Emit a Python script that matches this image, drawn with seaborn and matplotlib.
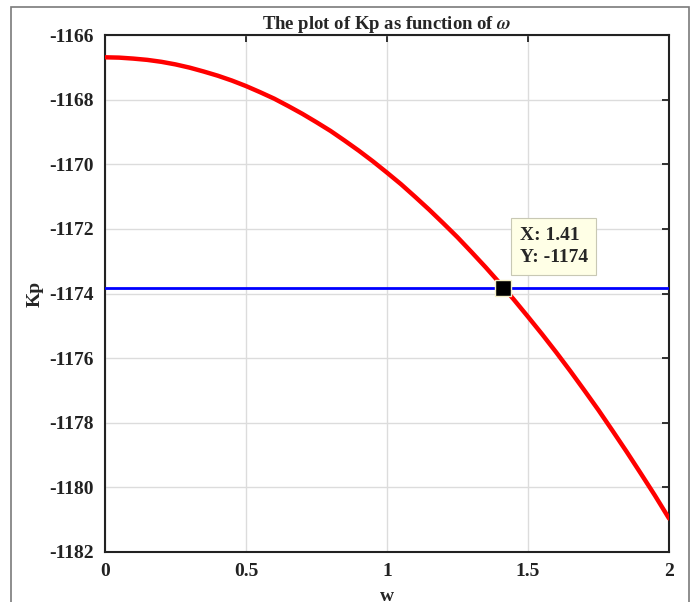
import matplotlib
matplotlib.use("Agg")
import matplotlib.pyplot as plt
import seaborn as sns
import pandas as pd
from matplotlib.patches import Rectangle

# Kp values sampled along w
w = [0.00, 0.05, 0.10, 0.15, 0.20, 0.25, 0.30, 0.35, 0.40, 0.45,
     0.50, 0.55, 0.60, 0.65, 0.70, 0.75, 0.80, 0.85, 0.90, 0.95,
     1.00, 1.05, 1.10, 1.15, 1.20, 1.25, 1.30, 1.35, 1.40, 1.45,
     1.50, 1.55, 1.60, 1.65, 1.70, 1.75, 1.80, 1.85, 1.90, 1.95, 2.00]
kp = [-1166.69, -1166.70, -1166.73, -1166.77, -1166.83, -1166.91,
      -1167.01, -1167.13, -1167.26, -1167.41, -1167.58, -1167.77,
      -1167.97, -1168.20, -1168.44, -1168.70, -1168.97, -1169.27,
      -1169.58, -1169.91, -1170.26, -1170.62, -1171.01, -1171.41,
      -1171.83, -1172.26, -1172.72, -1173.19, -1173.68, -1174.19,
      -1174.72, -1175.26, -1175.82, -1176.40, -1177.00, -1177.61,
      -1178.25, -1178.90, -1179.57, -1180.25, -1180.96]

# constant reference level and the marked crossing
kp_level = -1173.82
tip_x = 1.41
tip_y = -1173.82
tip_label_y = -1174

x_ticks = [0, 0.5, 1, 1.5, 2]
x_tick_labels = ["0", "0.5", "1", "1.5", "2"]
y_ticks = [-1182, -1180, -1178, -1176, -1174, -1172, -1170, -1168, -1166]

sns.set_style("white")
plt.rcParams["font.family"] = ["Liberation Serif", "DejaVu Serif"]
plt.rcParams["font.weight"] = "bold"
plt.rcParams["mathtext.fontset"] = "stix"
plt.rcParams["axes.unicode_minus"] = False

df = pd.DataFrame({"w": w, "Kp": kp})

fig = plt.figure(figsize=(6.98, 6.02), dpi=100)
ax = fig.add_axes([105 / 698, 1 - 552 / 602, (669 - 105) / 698, (552 - 35) / 602])

# outer window frame
fig.patches.append(Rectangle((11 / 698, -0.05), (689 - 11) / 698, 1 - 7 / 602 + 0.05,
                             transform=fig.transFigure, fill=False,
                             edgecolor="#7a7a7a", linewidth=1.2, zorder=0))

ax.axhline(kp_level, color="#0000ff", linewidth=2.0, zorder=3)
sns.lineplot(data=df, x="w", y="Kp", ax=ax, color="#ff0000", linewidth=3.2,
             zorder=4, legend=False)

ax.plot([tip_x], [tip_y], marker="s", markersize=12, color="black",
        markeredgecolor="#f5f0c8", markeredgewidth=1.0, zorder=6)
ax.text(1.47, -1171.93, f"X: {tip_x:.2f}\nY: {tip_label_y}", fontsize=14,
        fontweight="bold", ha="left", va="top", linespacing=1.45, zorder=7,
        bbox=dict(boxstyle="square,pad=0.42", facecolor="#ffffe6",
                  edgecolor="#c8c8b4", linewidth=0.8))

ax.set_xlim(0, 2)
ax.set_ylim(-1182, -1166)
ax.set_xticks(x_ticks)
ax.set_xticklabels(x_tick_labels)
ax.set_yticks(y_ticks)
ax.grid(True, color="#dcdcdc", linewidth=1.0)
ax.set_axisbelow(True)

ax.tick_params(direction="in", length=5, width=1.3, top=True, right=True,
               labelsize=14, colors="#222222", pad=8)
for lab in ax.get_xticklabels() + ax.get_yticklabels():
    lab.set_fontweight("bold")
for sp in ax.spines.values():
    sp.set_visible(True)
    sp.set_color("#222222")
    sp.set_linewidth(1.5)

ax.set_title(r"The plot of Kp as function of $\omega$", fontsize=13.5,
             fontweight="bold", pad=4)
ax.set_xlabel("w", fontsize=14, fontweight="bold", labelpad=6)
ax.set_ylabel("Kp", fontsize=14, fontweight="bold", labelpad=4)

fig.savefig("out.png", dpi=100)
